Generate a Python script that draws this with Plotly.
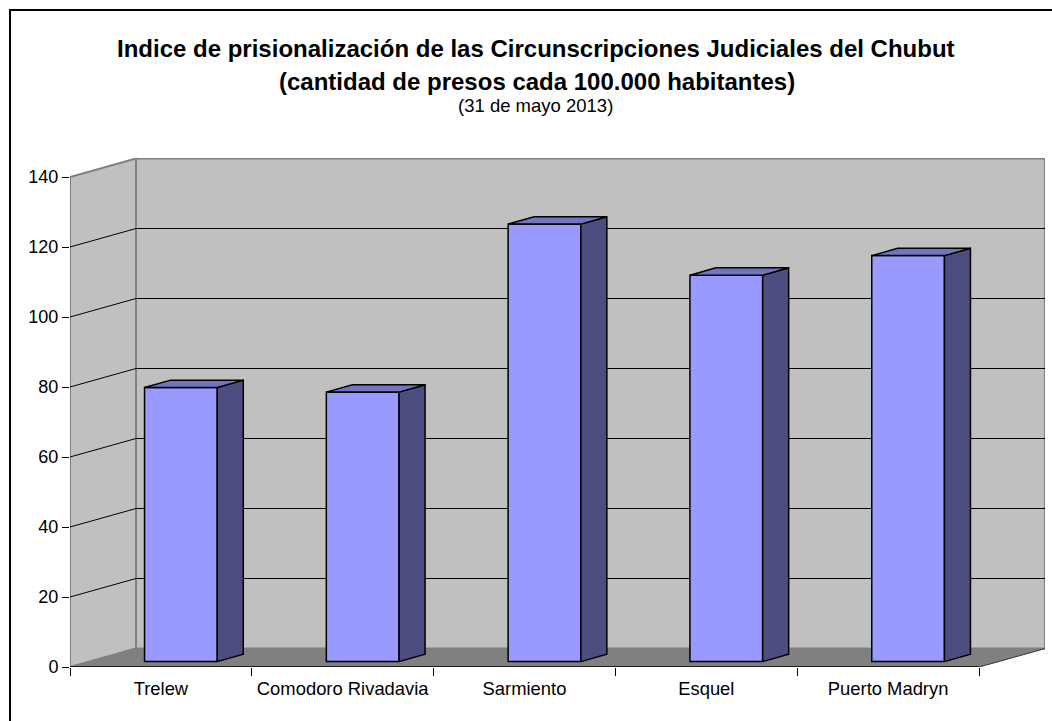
import plotly.graph_objects as go

# ---- data ----
categories = ["Trelew", "Comodoro Rivadavia", "Sarmiento", "Esquel", "Puerto Madryn"]
values = [78.3, 77.0, 125.0, 110.4, 116.0]
value_ticks = [0, 20, 40, 60, 80, 100, 120, 140]

title_lines = [
    "Indice de prisionalización de las Circunscripciones Judiciales del Chubut",
    "(cantidad de presos cada 100.000 habitantes)",
]
subtitle = "(31 de mayo 2013)"

# ---- 3D look, in axis units ----
W, H = 1052, 721
PLOT_L, PLOT_R, PLOT_T, PLOT_B = 70, 1045, 158, 667
PX_PER_CAT = 181.8
PX_PER_VAL = 3.5
DEPTH_X = 66 / PX_PER_CAT      # wall depth, horizontally
DEPTH_Y = 18.5 / PX_PER_VAL    # wall depth, vertically
BAR_SHIFT_X = 20 / PX_PER_CAT  # bar front plane
BAR_SHIFT_Y = 5.4 / PX_PER_VAL
BAR_DEPTH_X = 26 / PX_PER_CAT
BAR_DEPTH_Y = 7.4 / PX_PER_VAL
BAR_WIDTH = 0.4
FONT = "Liberation Sans"
N = len(categories)
TOP = value_ticks[-1]
WALL = "#C0C0C0"
FLOOR = "#808080"
EDGE = "#808080"


def poly(xs, ys, fill, color=EDGE, width=2):
    path = "M" + "L".join(f"{x},{y}" for x, y in zip(xs, ys)) + "Z"
    return dict(type="path", path=path, xref="x", yref="y", fillcolor=fill,
                line=dict(color=color, width=width), layer="below")


def seg(x0, y0, x1, y1, color="#000000", width=1):
    return dict(type="line", x0=x0, y0=y0, x1=x1, y1=y1, xref="x", yref="y",
                line=dict(color=color, width=width), layer="below")


shapes = [
    poly([DEPTH_X, N + DEPTH_X, N + DEPTH_X, DEPTH_X],
         [DEPTH_Y, DEPTH_Y, TOP + DEPTH_Y, TOP + DEPTH_Y], WALL),
    poly([0, DEPTH_X, DEPTH_X, 0], [0, DEPTH_Y, TOP + DEPTH_Y, TOP], WALL),
    poly([0, N, N + DEPTH_X, DEPTH_X], [0, 0, DEPTH_Y, DEPTH_Y], FLOOR, width=1),
]
for v in value_ticks[1:-1]:
    shapes.append(seg(0, v, DEPTH_X, v + DEPTH_Y))
    shapes.append(seg(DEPTH_X, v + DEPTH_Y, N + DEPTH_X, v + DEPTH_Y))
shapes.append(seg(N, 0, N + DEPTH_X, DEPTH_Y, color="#404040"))
shapes.append(seg(0, 0, N, 0, width=1.5))
# outer frame of the chart, in paper fractions
shapes.append(dict(type="rect", xref="paper", yref="paper",
                   x0=(10 - PLOT_L) / (PLOT_R - PLOT_L), x1=(W + 20 - PLOT_L) / (PLOT_R - PLOT_L),
                   y0=(PLOT_B - (H + 20)) / (PLOT_B - PLOT_T), y1=(PLOT_B - 10) / (PLOT_B - PLOT_T),
                   line=dict(color="#000000", width=2), layer="below"))

centers = [i + 0.5 for i in range(N)]
fig = go.Figure()
fig.add_trace(go.Bar(
    x=[c + BAR_SHIFT_X for c in centers], y=values, base=BAR_SHIFT_Y, width=BAR_WIDTH,
    marker=dict(color="#9999FF", line=dict(color="#000000", width=1.5)),
    hoverinfo="skip", showlegend=False,
))
for c, v in zip(centers, values):
    left = c + BAR_SHIFT_X - BAR_WIDTH / 2
    right = left + BAR_WIDTH
    low = BAR_SHIFT_Y
    high = low + v
    fig.add_trace(go.Scatter(
        x=[right, right + BAR_DEPTH_X, right + BAR_DEPTH_X, right, right],
        y=[low, low + BAR_DEPTH_Y, high + BAR_DEPTH_Y, high, low],
        mode="lines", fill="toself", fillcolor="#4D4D7F",
        line=dict(color="#000000", width=1.5), hoverinfo="skip", showlegend=False,
    ))
    fig.add_trace(go.Scatter(
        x=[left, right, right + BAR_DEPTH_X, left + BAR_DEPTH_X, left],
        y=[high, high, high + BAR_DEPTH_Y, high + BAR_DEPTH_Y, high],
        mode="lines", fill="toself", fillcolor="#7373BF",
        line=dict(color="#000000", width=1.5), hoverinfo="skip", showlegend=False,
    ))


def px_x(p):
    return (p - PLOT_L) / (PLOT_R - PLOT_L)


def px_y(p):
    return (PLOT_B - p) / (PLOT_B - PLOT_T)


annotations = [
    dict(text=f"<b>{title_lines[0]}</b>", x=px_x(535.5), y=px_y(48.5), xref="paper", yref="paper",
         showarrow=False, xanchor="center", yanchor="middle", font=dict(family=FONT, size=24, color="#000")),
    dict(text=f"<b>{title_lines[1]}</b>", x=px_x(536.5), y=px_y(81.5), xref="paper", yref="paper",
         showarrow=False, xanchor="center", yanchor="middle", font=dict(family=FONT, size=24, color="#000")),
    dict(text=subtitle, x=px_x(535.5), y=px_y(106), xref="paper", yref="paper",
         showarrow=False, xanchor="center", yanchor="middle", font=dict(family=FONT, size=18.5, color="#000")),
]

fig.update_layout(
    width=W, height=H, autosize=False,
    margin=dict(l=PLOT_L, r=W - PLOT_R, t=PLOT_T, b=H - PLOT_B, pad=0),
    paper_bgcolor="#FFFFFF", plot_bgcolor="#FFFFFF",
    showlegend=False, shapes=shapes, annotations=annotations,
    font=dict(family=FONT, size=18, color="#000000"),
    xaxis=dict(
        range=[0, (PLOT_R - PLOT_L) / PX_PER_CAT], tickmode="array",
        tickvals=centers, ticktext=categories, ticks="", ticklabelstandoff=9,
        showgrid=False, zeroline=False, showline=False,
        tickfont=dict(family=FONT, size=18.4, color="#000000"),
        minor=dict(tickmode="array", tickvals=list(range(N + 1)), ticks="outside",
                   ticklen=8, tickcolor="#000000", tickwidth=1, showgrid=False),
    ),
    yaxis=dict(
        range=[0, (PLOT_B - PLOT_T) / PX_PER_VAL], tickmode="array",
        tickvals=value_ticks, ticks="outside", ticklen=7, tickcolor="#000000", tickwidth=1,
        showgrid=False, zeroline=False, showline=False,
        tickfont=dict(family=FONT, size=18, color="#000000"),
    ),
)

fig.write_html(
    "out.html",
    config=dict(displayModeBar=False),
    post_script="document.body.style.margin='0';document.body.style.overflow='hidden';",
)
